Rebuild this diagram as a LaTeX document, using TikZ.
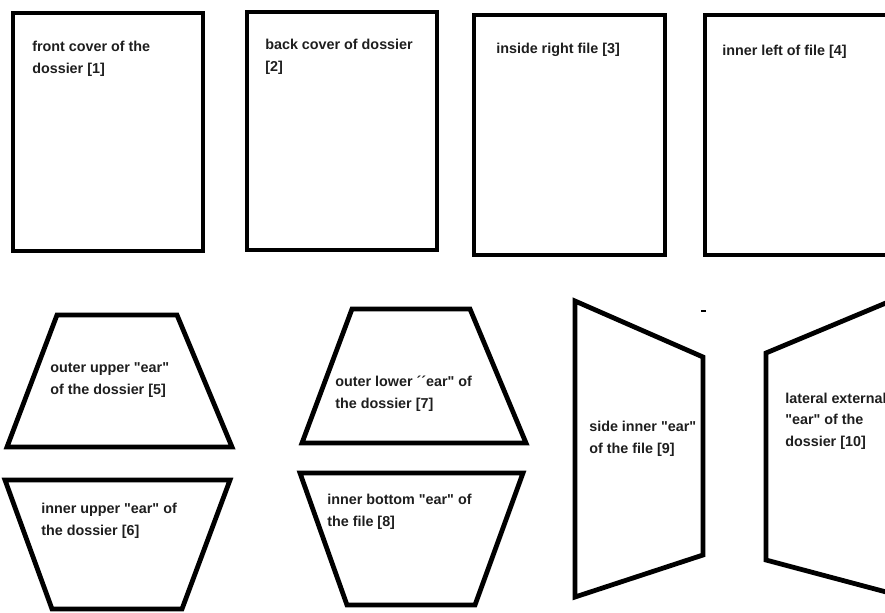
\documentclass[tikz,border=0pt]{standalone}
\usepackage{fontspec}
\newfontfamily\lblfont{Liberation Sans}
\begin{document}
\begin{tikzpicture}[x=0.025cm,y=-0.025cm,
	part/.style={line width=3.4pt,line join=miter},
	lbl/.style={anchor=base west,inner sep=0pt,align=left,text=txt,
		font=\lblfont\bfseries\fontsize{10.2}{15}\selectfont}]
\definecolor{txt}{RGB}{30,30,30}
	\clip (0,0) rectangle (885,612);
	\draw[part] (13,13) rectangle (203,251);
	\draw[part] (247,12) rectangle (437,250);
	\draw[part] (474,15) rectangle (665,255);
	\draw[part] (705,15) rectangle (900,255);
	\draw[part] (57,315)--(177,315)--(232,447)--(7,447)--cycle;
	\draw[part] (5,480)--(230,480)--(182,609)--(52,609)--cycle;
	\draw[part] (352,309)--(470,309)--(526,443)--(302,443)--cycle;
	\draw[part] (300,473)--(523,473)--(475,605)--(347,605)--cycle;
	\draw[part] (575,301)--(703,357)--(703,555)--(575,597)--cycle;
	\draw[part] (905,295)--(766,353)--(766,560)--(905,597);
	\draw[line width=1.2pt] (701,311)--(706,311);
	\node[lbl] (t1) at (32,73){front cover of the\\dossier [1]};
	\node[lbl] (t2) at (265,71){back cover of dossier\\{[2]}};
	\node[lbl] (t3) at (496,53){inside right file [3]};
	\node[lbl] (t4) at (722,55){inner left of file [4]};
	\node[lbl] (t5) at (50,394){outer upper "ear"\\of the dossier [5]};
	\node[lbl] (t6) at (41,535){inner upper "ear" of\\the dossier [6]};
	\node[lbl] (t7) at (335,408){outer lower ´´ear" of\\the dossier [7]};
	\node[lbl] (t8) at (327,526){inner bottom "ear" of\\the file [8]};
	\node[lbl] (t9) at (589,453){side inner "ear"\\of the file [9]};
	\node[lbl] (t10) at (785,446){lateral external\\"ear" of the\\dossier [10]};
\end{tikzpicture}
\end{document}
